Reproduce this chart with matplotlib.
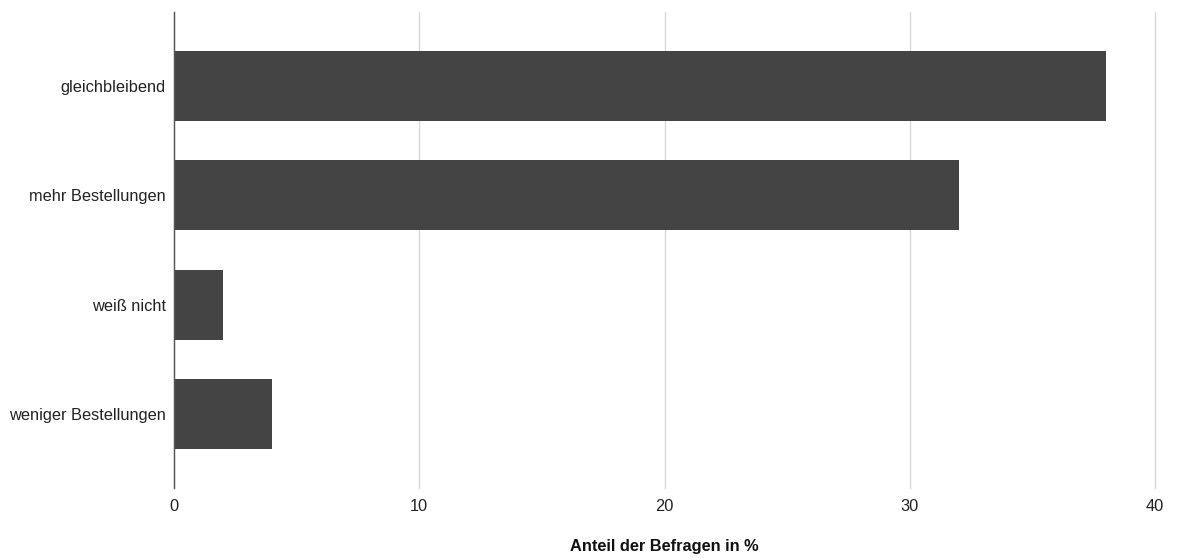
import matplotlib.pyplot as plt

# Daten
categories = ['gleichbleibend', 'mehr Bestellungen', 'weiß nicht', 'weniger Bestellungen']
values = [38, 32, 2, 4]
xticks = [0, 10, 20, 30, 40]

plt.rcParams['font.family'] = ['Liberation Sans', 'DejaVu Sans']

fig = plt.figure(figsize=(11.81, 5.58), dpi=100)
ax = fig.add_axes([174 / 1181, 1 - 488 / 558, (1155 - 174) / 1181, (488 - 12) / 558])

ypos = list(range(len(categories)))
ax.barh(ypos, values, height=0.64, color='#444444', zorder=3)

ax.set_ylim(len(categories) - 1 + 0.68, -0.68)
ax.set_xlim(0, 40)
ax.set_yticks(ypos)
ax.set_yticklabels(categories, fontsize=11.8, color='#222222')
ax.set_xticks(xticks)
ax.set_xticklabels([str(t) for t in xticks], fontsize=11.8, color='#222222')
ax.tick_params(axis='both', length=0)
ax.tick_params(axis='x', pad=8)
ax.tick_params(axis='y', pad=6)

ax.grid(axis='x', color='#d9d9d9', linewidth=1, zorder=0)
for gl in ax.get_xgridlines():
    gl.set_clip_on(False)
for s in ['top', 'right', 'bottom']:
    ax.spines[s].set_visible(False)
ax.spines['left'].set_color('#555555')
ax.spines['left'].set_linewidth(1)
ax.spines['left'].set_zorder(4)

ax.set_xlabel('Anteil der Befragen in %', fontsize=11.8, fontweight='bold', labelpad=18, color='#111111')

fig.savefig('out.png', dpi=100)
